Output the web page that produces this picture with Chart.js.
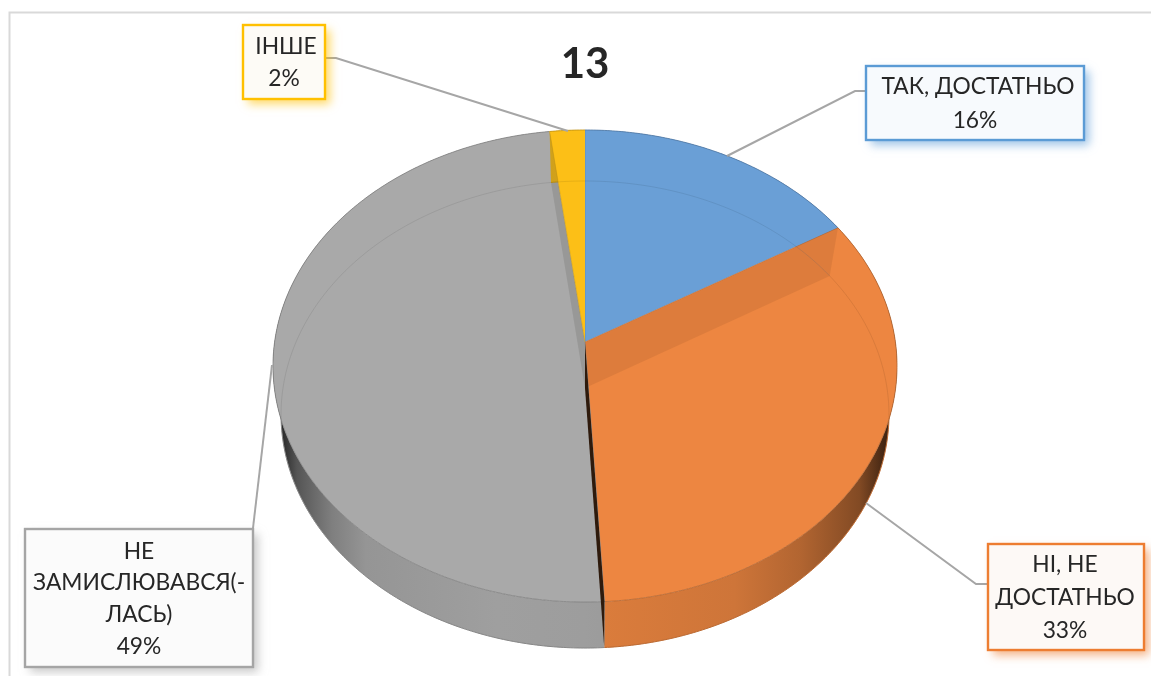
<!DOCTYPE html>
<html><head><meta charset="utf-8">
<style>html,body{margin:0;padding:0;background:#fff;overflow:hidden}#w{width:1151px;height:676px}</style>
<script src="https://cdn.jsdelivr.net/npm/chart.js@4/dist/chart.umd.min.js"></script>
</head><body><div id="w"><canvas id="c"></canvas></div>
<script>
const chartTitle = '13';
const categories = ['ТАК, ДОСТАТНЬО', 'НІ, НЕ ДОСТАТНЬО', 'НЕ ЗАМИСЛЮВАВСЯ(-ЛАСЬ)', 'ІНШЕ'];
const shares = [16.4, 32.7, 48.9, 2.0];
const labelLines = [['ТАК, ДОСТАТНЬО'], ['НІ, НЕ', 'ДОСТАТНЬО'], ['НЕ', 'ЗАМИСЛЮВАВСЯ(-', 'ЛАСЬ)'], ['ІНШЕ']];
const faceColors = ['#6a9fd6', '#ed8641', '#a9a9a9', '#fcbf17'];
const edgeColors = ['#5b9bd5', '#ed7d31', '#a5a5a5', '#ffc000'];
const boxFills = ['#f7fafd', '#fdf9f6', '#fbfbfb', '#fdfbf6'];
const FONT = 'Lato, "Open Sans", sans-serif';

/* perspective discs: upper rim and lower rim */
const TOP = {cx:585, cy:342, R:310.4, S:233.6, p:-0.1017};
const BOT = {cx:585, cy:388, R:302.0, S:230.5, p:-0.1135};
function proj(d, a){ // a = canvas angle as chart.js uses it
  const u=Math.cos(a), v=Math.sin(a), w=1+d.p*v;
  return [d.cx+d.R*u/w, d.cy+d.S*v/w];
}
function arcPath(ctx,d,a0,a1,first){
  const n=Math.max(2,Math.ceil(Math.abs(a1-a0)/0.01));
  for(let i=0;i<=n;i++){const q=proj(d,a0+(a1-a0)*i/n);
    if(i===0&&first)ctx.moveTo(q[0],q[1]);else ctx.lineTo(q[0],q[1]);}
}
function shade(hex,f){const n=parseInt(hex.slice(1),16);
  return 'rgb('+[n>>16,(n>>8)&255,n&255].map(c=>Math.round(c*f)).join(',')+')';}

class Arc3D extends Chart.ArcElement{
  static id='arc3d';
  draw(ctx){
    const o=this.options, a0=this.startAngle, a1=this.endAngle, col=o.backgroundColor;
    // curved outer wall
    ctx.save();
    const g=ctx.createLinearGradient(272,0,897,0);
    [[0,.2],[.016,.25],[.04,.5],[.096,.75],[.15,.88],[.36,.94],[.5,.93],[.74,.87],[.845,.75],[.94,.55],[.978,.3],[1,.2]]
      .forEach(s=>g.addColorStop(s[0],shade(col,s[1])));
    ctx.fillStyle=g;ctx.beginPath();
    arcPath(ctx,TOP,a0,a1,true);arcPath(ctx,BOT,a1,a0,false);ctx.closePath();ctx.fill();
    ctx.strokeStyle=shade(col,.85);ctx.lineWidth=1;
    ctx.beginPath();arcPath(ctx,BOT,a0,a1,true);ctx.stroke();
    ctx.restore();
    // face
    ctx.save();
    ctx.fillStyle=col;ctx.beginPath();ctx.moveTo(TOP.cx,TOP.cy);
    arcPath(ctx,TOP,a0,a1,false);ctx.closePath();ctx.fill();
    ctx.strokeStyle=shade(col,.75);ctx.lineWidth=1;ctx.globalAlpha=.8;
    ctx.beginPath();arcPath(ctx,TOP,a0,a1,true);ctx.stroke();
    ctx.strokeStyle=shade(col,.8);ctx.globalAlpha=.5;
    ctx.beginPath();ctx.moveTo(TOP.cx,TOP.cy);const e=proj(TOP,a0);ctx.lineTo(e[0],e[1]);ctx.stroke();
    ctx.restore();
  }
}
class Pie3D extends Chart.PieController{
  static id='pie3d';
  static defaults={...Chart.PieController.defaults,dataElementType:'arc3d'};
  static overrides=Chart.PieController.overrides;
}
Chart.register(Arc3D,Pie3D);

function wall(ctx,a,fill){
  const t=proj(TOP,a),b=proj(BOT,a);
  ctx.fillStyle=fill;ctx.beginPath();ctx.moveTo(TOP.cx,TOP.cy);ctx.lineTo(t[0],t[1]);
  ctx.lineTo(b[0],b[1]);ctx.lineTo(BOT.cx,BOT.cy);ctx.closePath();ctx.fill();
}
const see3d={id:'see3d',afterDatasetsDraw(chart){
  const ctx=chart.ctx, arcs=chart.getDatasetMeta(0).data;
  ctx.save();
  // inner walls seen through the translucent faces
  wall(ctx,arcs[0].endAngle,'rgba(150,85,40,.18)');
  wall(ctx,arcs[3].startAngle,'rgba(70,70,60,.16)');
  wall(ctx,arcs[1].endAngle,'#2e1a0c');
  // lower rim seen through the faces
  arcs.forEach((el,i)=>{
    ctx.strokeStyle=shade(faceColors[i],.55);ctx.globalAlpha=.18;ctx.lineWidth=1;
    ctx.beginPath();arcPath(ctx,BOT,el.startAngle,el.endAngle,true);ctx.stroke();
  });
  ctx.restore();
}};
/* layout in page pixels */
const boxes=[
 {x:866,y:66,w:218,h:74,cx:[978,975],ly:[87,121],leader:[[866,91],[855,91],[727,156]]},
 {x:988,y:544,w:156,h:106,cx:[1065,1065,1065],ly:[565,598,631],leader:[[988,584],[976,584],[866,503]]},
 {x:25,y:529,w:228,h:138,cx:[139,139,139,139],ly:[552,583,615,647],leader:[[253,528],[272,365]]},
 {x:243,y:25,w:82,h:74,cx:[286,284],ly:[47,79],leader:[[326,58],[336,58],[568,131]]}
];
const labels3d={id:'labels3d',beforeDraw(chart){
  const ctx=chart.ctx;ctx.save();ctx.strokeStyle='#d9d9d9';ctx.lineWidth=2;
  ctx.beginPath();ctx.moveTo(1151,12.5);ctx.lineTo(9.5,12.5);ctx.lineTo(9.5,676);ctx.stroke();ctx.restore();
},afterDraw(chart){
  const ctx=chart.ctx,vals=chart.data.datasets[0].data;
  boxes.forEach((b,i)=>{
    ctx.save();
    ctx.strokeStyle='#a6a6a6';ctx.lineWidth=2;ctx.beginPath();
    b.leader.forEach((p,k)=>k?ctx.lineTo(p[0],p[1]):ctx.moveTo(p[0],p[1]));ctx.stroke();
    ctx.shadowColor=edgeColors[i]+'99';ctx.shadowBlur=9;ctx.shadowOffsetX=5;ctx.shadowOffsetY=5;
    ctx.fillStyle=boxFills[i];ctx.fillRect(b.x,b.y,b.w,b.h);
    ctx.shadowColor='transparent';
    ctx.strokeStyle=edgeColors[i];ctx.lineWidth=2.4;ctx.strokeRect(b.x,b.y,b.w,b.h);
    ctx.fillStyle='#262626';ctx.font='22.8px '+FONT;ctx.textAlign='center';ctx.textBaseline='middle';
    const lines=[...labelLines[i],Math.round(vals[i])+'%'];
    lines.forEach((t,k)=>ctx.fillText(t,b.cx[k],b.ly[k]));
    ctx.restore();
  });
}};
new Chart(document.getElementById('c'),{
  type:'pie3d',
  data:{labels:categories,datasets:[{data:shares,backgroundColor:faceColors,borderWidth:0}]},
  options:{responsive:true,maintainAspectRatio:false,animation:false,
    rotation:0,
    layout:{padding:{left:19,top:39}},
    plugins:{legend:{display:false},tooltip:{enabled:false},
      title:{display:true,text:chartTitle,color:'#262626',font:{family:FONT,size:42,weight:'bold'},padding:0}}},
  plugins:[see3d,labels3d]
});
</script></body></html>
